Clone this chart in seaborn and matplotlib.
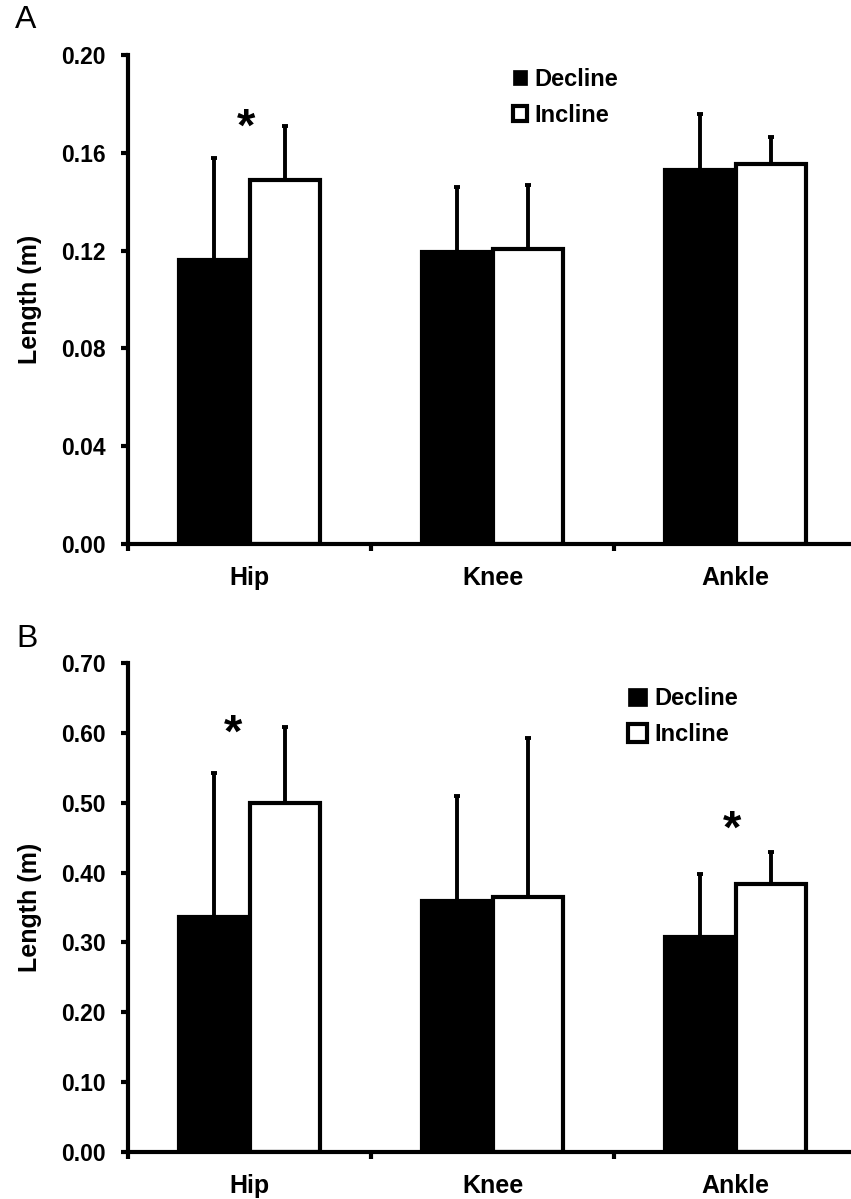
"""Decline vs incline segment length, panels A and B."""

import matplotlib.pyplot as plt
import matplotlib.ticker as mticker
import numpy as np
import pandas as pd
import seaborn as sns
from matplotlib.patches import Patch

JOINTS = ["Hip", "Knee", "Ankle"]
CONDITIONS = ["Decline", "Incline"]

# panel A
A_DECLINE = [0.116, 0.1196, 0.153]
A_DECLINE_SD = [0.042, 0.0264, 0.023]
A_INCLINE = [0.149, 0.1205, 0.1555]
A_INCLINE_SD = [0.022, 0.0263, 0.0111]
A_YTICKS = [0.00, 0.04, 0.08, 0.12, 0.16, 0.20]

# panel B
B_DECLINE = [0.336, 0.360, 0.308]
B_DECLINE_SD = [0.207, 0.149, 0.090]
B_INCLINE = [0.499, 0.365, 0.383]
B_INCLINE_SD = [0.110, 0.228, 0.047]
B_YTICKS = [0.00, 0.10, 0.20, 0.30, 0.40, 0.50, 0.60, 0.70]

W, H = 851, 1199

sns.set_style("ticks")
plt.rcParams["font.family"] = ["Liberation Sans", "DejaVu Sans"]
plt.rcParams["font.weight"] = "bold"
plt.rcParams["axes.labelweight"] = "bold"
for key in ["text.color", "axes.edgecolor", "axes.labelcolor", "xtick.color", "ytick.color"]:
    plt.rcParams[key] = "black"


def make_df(decline, incline):
    rows = []
    for cond, vals in zip(CONDITIONS, [decline, incline]):
        for j, v in zip(JOINTS, vals):
            rows.append({"joint": j, "condition": cond, "length": v})
    return pd.DataFrame(rows)


def draw_panel(ax, decline, decline_sd, incline, incline_sd, yticks, legend_xy, handle_len, spacing):
    df = make_df(decline, incline)
    sns.barplot(
        data=df, x="joint", y="length", hue="condition", order=JOINTS,
        hue_order=CONDITIONS, palette=["black", "white"], width=0.58, gap=0,
        edgecolor="black", linewidth=3, errorbar=None, legend=False, ax=ax,
    )
    bars = ax.patches[:6]
    xs = [b.get_x() + b.get_width() / 2 for b in bars]
    ys = [b.get_height() for b in bars]
    sds = list(decline_sd) + list(incline_sd)
    ax.errorbar(
        xs, ys, yerr=[np.zeros(len(sds)), sds], fmt="none", ecolor="black",
        elinewidth=2.8, capsize=2.5, capthick=2.8, zorder=1,
    )
    for b in bars:
        b.set_zorder(2)

    ax.set_xlim(-0.5, 2.5)
    ax.set_ylim(yticks[0], yticks[-1])
    ax.set_yticks(yticks)
    ax.yaxis.set_major_formatter(mticker.FormatStrFormatter("%.2f"))
    ax.set_xticks([-0.5, 0.5, 1.5, 2.5], minor=True)
    ax.tick_params(axis="x", which="major", length=0, pad=16, labelsize=18)
    ax.tick_params(axis="x", which="minor", length=5, width=3, direction="out")
    ax.tick_params(axis="y", length=5, width=3, pad=11, labelsize=16.5)
    for lab in ax.get_xticklabels() + ax.get_yticklabels():
        lab.set_fontweight("bold")
    for side in ["left", "bottom"]:
        ax.spines[side].set_linewidth(3)
    sns.despine(ax=ax)
    ax.set_xlabel("")
    ax.set_ylabel("Length (m)", fontsize=18, fontweight="bold", va="center")
    ax.yaxis.set_label_coords((30 - 128) / 729, 0.5)

    handles = [
        Patch(facecolor="black", edgecolor="black", linewidth=0.5),
        Patch(facecolor="white", edgecolor="black", linewidth=3),
    ]
    ax.legend(
        handles, CONDITIONS, loc="upper left",
        bbox_to_anchor=(legend_xy[0] / W, 1 - legend_xy[1] / H),
        bbox_transform=ax.figure.transFigure, frameon=False, borderpad=0,
        borderaxespad=0, handlelength=handle_len, handleheight=handle_len,
        handletextpad=0.3, labelspacing=spacing,
        prop={"size": 17, "weight": "bold"},
    )


fig = plt.figure(figsize=(W / 100, H / 100), dpi=100)
left, width = 128 / W, 729 / W
ax_a = fig.add_axes([left, 1 - 544 / H, width, (544 - 55) / H])
ax_b = fig.add_axes([left, 1 - 1152 / H, width, (1152 - 663) / H])

draw_panel(ax_a, A_DECLINE, A_DECLINE_SD, A_INCLINE, A_INCLINE_SD, A_YTICKS, (513, 68), 0.6, 0.55)
draw_panel(ax_b, B_DECLINE, B_DECLINE_SD, B_INCLINE, B_INCLINE_SD, B_YTICKS, (628, 687), 0.8, 0.55)

# significance markers
star = dict(ha="center", va="center", fontsize=34, fontweight="bold")
ax_a.text(-0.014, 0.1700, "*", **star)
ax_b.text(-0.068, 0.597, "*", **star)
ax_b.text(1.986, 0.460, "*", **star)

fig.text(26 / W, 1 - 20 / H, "A", fontsize=23, fontweight="normal", ha="center", va="center")
fig.text(27 / W, 1 - 639 / H, "B", fontsize=23, fontweight="normal", ha="center", va="center")

fig.savefig("out.png", dpi=100)
